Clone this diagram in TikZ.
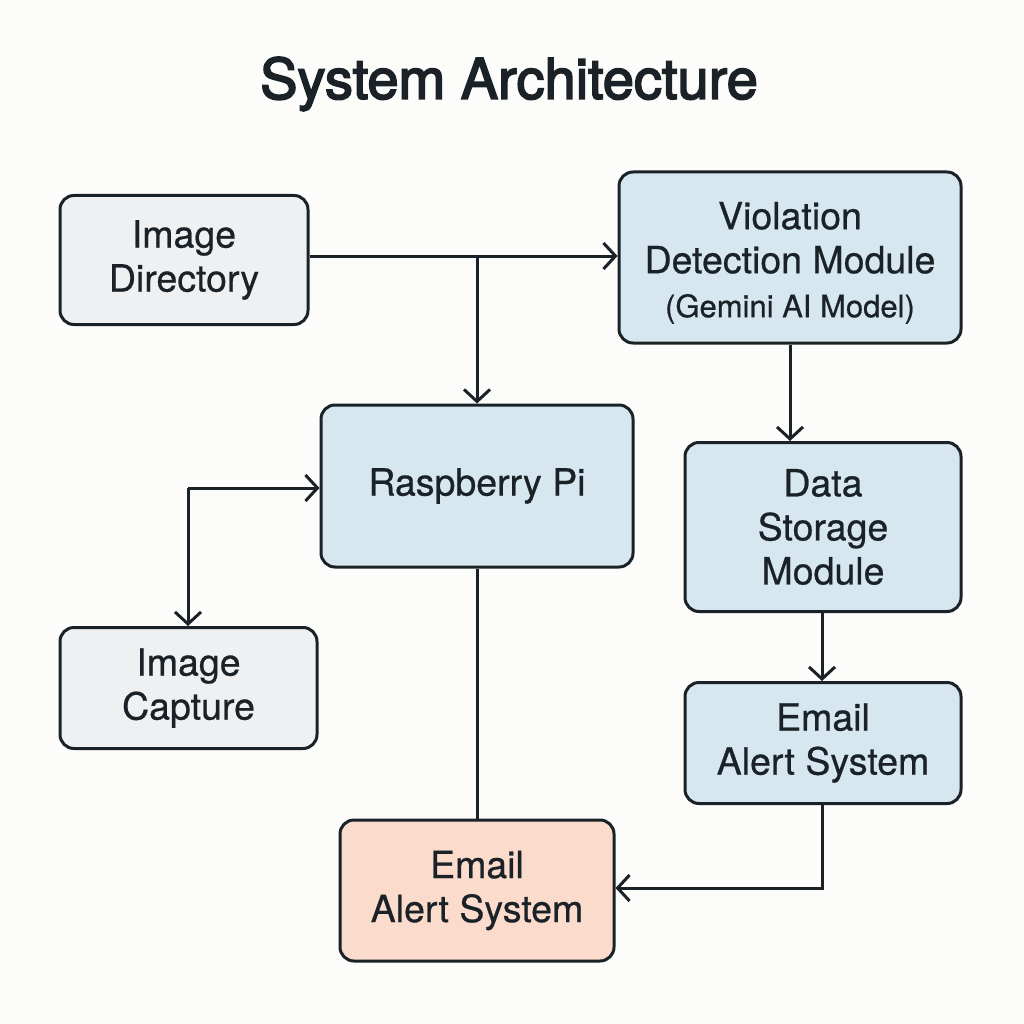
\documentclass[tikz,border=0pt]{standalone}
\usepackage{fontspec}
\setmainfont{TeX Gyre Heros}
\newfontfamily\boxfont[FakeBold=0.6]{TeX Gyre Heros}
\newfontfamily\titlefont[FakeBold=3]{TeX Gyre Heros}
\usetikzlibrary{arrows.meta}
\definecolor{ink}{HTML}{1A2228}
\definecolor{bg}{HTML}{FCFCFB}
\definecolor{grayfill}{HTML}{EFF0F1}
\definecolor{bluefill}{HTML}{D7E7F0}
\definecolor{peachfill}{HTML}{FADBCC}
\tikzset{
  box/.style={draw=ink, line width=3pt, rounded corners=14pt, inner sep=0pt, text=ink, align=center,
     font=\boxfont\fontsize{37.5}{44}\selectfont},
  graybox/.style={box, fill=grayfill},
  bluebox/.style={box, fill=bluefill},
  peachbox/.style={box, fill=peachfill},
  conn/.style={draw=ink, line width=3pt},
  arr/.style={conn, -{Straight Barb[length=12pt,width=26pt,line width=3pt]}},
}
\begin{document}
\begin{tikzpicture}[x=1pt,y=-1pt]
\fill[bg] (0,0) rectangle (1024,1024);
\useasboundingbox (0,0) rectangle (1024,1024);
\node[text=ink, font=\titlefont\fontsize{56}{64}\selectfont] (title) at (509,84) {System Architecture};
\node[graybox, minimum width=248pt, minimum height=129pt] (imgdir) at (184,260) {Image\\Directory};
\node[bluebox, minimum width=342pt, minimum height=171pt] (viol) at (790,257.5) {\rule{0pt}{38pt}Violation\\Detection Module\\{\fontsize{31}{42}\selectfont (Gemini AI Model)}};
\node[bluebox, minimum width=312pt, minimum height=162pt] (rpi) at (477,486) {Raspberry Pi};
\node[bluebox, minimum width=276pt, minimum height=169pt] (store) at (823,527) {Data\\Storage\\Module};
\node[graybox, minimum width=257pt, minimum height=121pt] (cap) at (188.5,688) {Image\\Capture};
\node[bluebox, minimum width=276pt, minimum height=121pt] (emailr) at (823,743) {Email\\Alert System};
\node[peachbox, minimum width=274pt, minimum height=141pt] (emailb) at (477,890.5) {Email\\Alert System};
\coordinate (j1) at (477,256);
\coordinate (j2) at (188,488);
\coordinate (j3) at (822,888);
\draw[arr] (imgdir.east |- j1) -- (viol.west |- j1);
\draw[arr] (j1) -- (rpi.north);
\draw[arr] (viol.south) -- (store.north -| viol.south);
\draw[arr] (store.south -| j3) -- (emailr.north -| j3);
\draw[arr] (emailr.south -| j3) -- (j3) -- (emailb.east |- j3);
\draw[conn] (rpi.south) -- (emailb.north -| rpi.south);
\draw[arr] (j2) -- (rpi.west |- j2);
\draw[arr] (j2) -- (cap.north -| j2);
\end{tikzpicture}
\end{document}
